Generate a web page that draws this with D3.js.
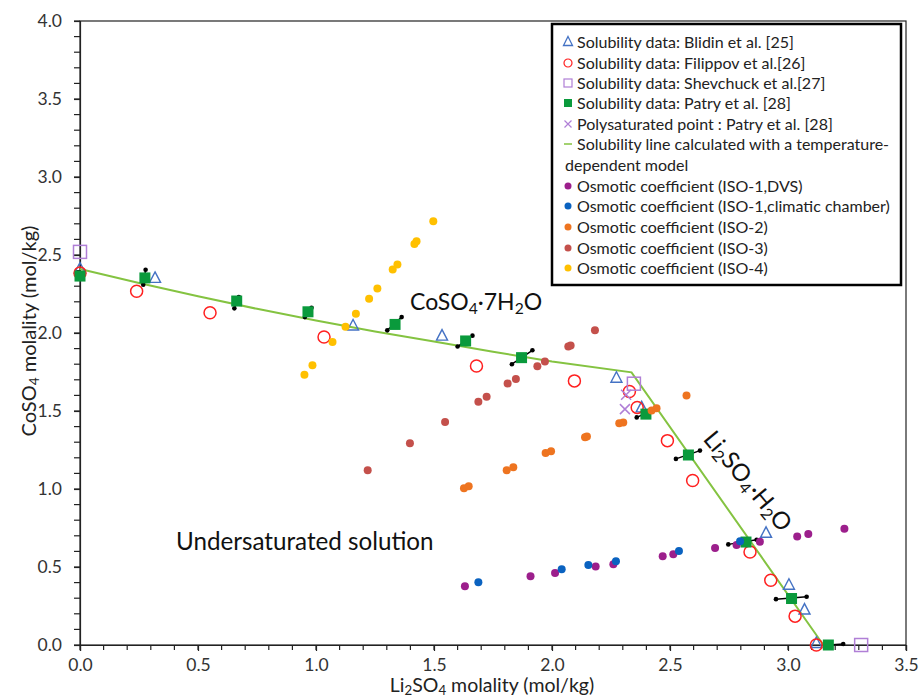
<!DOCTYPE html>
<html lang="en">
  <head>
    <meta charset="UTF-8" />
    <title>CoSO4 - Li2SO4 solubility diagram</title>
    <script src="https://d3js.org/d3.v7.min.js"></script>
  </head>
  <style>
    body {
      margin: 0;
      background: #fff;
    }
    svg {
      font-family: Lato, "Open Sans", sans-serif;
    }
    .tick text {
      fill: #333;
    }
  </style>
  <body>
    <div id="viz"><svg width="921" height="699"></svg></div>
    <script>
      // solubility data, [Li2SO4, CoSO4] in mol/kg
      var blidin = [[0, 2.41], [0.318, 2.35], [1.157, 2.045], [1.534, 1.98], [2.273, 1.71],
        [2.38, 1.52], [2.907, 0.716], [3.004, 0.383], [3.07, 0.224], [3.12, 0.01]];
      var filippov = [[0, 2.385], [0.24, 2.268], [0.551, 2.13], [1.034, 1.974], [1.68, 1.789],
        [2.095, 1.693], [2.328, 1.625], [2.361, 1.523], [2.489, 1.31], [2.596, 1.054],
        [2.839, 0.596], [2.927, 0.415], [3.03, 0.185], [3.12, 0.0]];
      var shevchuck = [[0, 2.52], [2.347, 1.675], [3.31, 0]];
      var patry = [[0, 2.365], [0.275, 2.353], [0.664, 2.205], [0.966, 2.136], [1.335, 2.055],
        [1.634, 1.949], [1.871, 1.842], [2.398, 1.48], [2.578, 1.218], [2.822, 0.66],
        [3.015, 0.298], [3.171, 0]];
      // error bar ends for the Patry points
      var patryErrLow = [null, [0.268, 2.31], [0.654, 2.158], [0.953, 2.102], [1.302, 2.017],
        [1.6, 1.913], [1.83, 1.8], [2.359, 1.459], [2.525, 1.193], [2.747, 0.645],
        [2.949, 0.294], [3.171, 0]];
      var patryErrHigh = [null, [0.278, 2.405], [0.673, 2.23], [0.981, 2.162], [1.363, 2.102],
        [1.663, 1.983], [1.917, 1.889], [2.415, 1.497], [2.627, 1.246], [2.867, 0.675],
        [3.079, 0.309], [3.234, 0.006]];
      var polysat = [[2.314, 1.604], [2.309, 1.512]];
      var solubilityLine = [[0, 2.41], [0.25, 2.32], [0.5, 2.235], [0.75, 2.155], [1.0, 2.08],
        [1.25, 2.01], [1.5, 1.945], [1.75, 1.88], [2.0, 1.818], [2.337, 1.748], [3.15, 0]];

      // osmotic coefficient measurements
      var iso1Dvs = [[1.631, 0.377], [1.909, 0.441], [2.013, 0.462], [2.185, 0.503], [2.26, 0.518],
        [2.469, 0.569], [2.514, 0.581], [2.691, 0.622], [2.782, 0.641], [2.881, 0.662],
        [3.039, 0.696], [3.086, 0.711], [3.239, 0.745]];
      var iso1Chamber = [[1.688, 0.403], [2.041, 0.486], [2.154, 0.513], [2.271, 0.537],
        [2.538, 0.603], [2.797, 0.665]];
      var iso2 = [[1.627, 1.005], [1.647, 1.018], [1.808, 1.12], [1.836, 1.14], [1.973, 1.23],
        [1.996, 1.242], [2.14, 1.331], [2.148, 1.336], [2.285, 1.421], [2.302, 1.427],
        [2.422, 1.504], [2.443, 1.517], [2.57, 1.6]];
      var iso3 = [[1.219, 1.12], [1.398, 1.293], [1.547, 1.43], [1.688, 1.559], [1.723, 1.591],
        [1.812, 1.677], [1.847, 1.705], [1.938, 1.787], [1.97, 1.817], [2.069, 1.913],
        [2.079, 1.92], [2.182, 2.017]];
      var iso4 = [[0.951, 1.732], [0.985, 1.793], [1.07, 1.942], [1.125, 2.04], [1.169, 2.124],
        [1.225, 2.22], [1.26, 2.286], [1.325, 2.407], [1.345, 2.439], [1.417, 2.571],
        [1.426, 2.588], [1.497, 2.716]];

      var xTicks = [0, 0.5, 1, 1.5, 2, 2.5, 3, 3.5];
      var yTicks = [0, 0.5, 1, 1.5, 2, 2.5, 3, 3.5, 4];

      var legendLabels = [
        "Solubility data: Blidin et al. [25]",
        "Solubility data: Filippov et al.[26]",
        "Solubility data: Shevchuck et al.[27]",
        "Solubility data: Patry et al. [28]",
        "Polysaturated point : Patry et al. [28]",
        "Solubility line calculated with a temperature-",
        "Osmotic coefficient (ISO-1,DVS)",
        "Osmotic coefficient (ISO-1,climatic chamber)",
        "Osmotic coefficient (ISO-2)",
        "Osmotic coefficient (ISO-3)",
        "Osmotic coefficient (ISO-4)"
      ];

      var colors = {
        blidin: "#4472c4",
        filippov: "#ff2020",
        shevchuck: "#b07fd6",
        patry: "#0a9a3c",
        polysat: "#b07fd6",
        line: "#84c341",
        iso1Dvs: "#9c1f8c",
        iso1Chamber: "#0a62c0",
        iso2: "#ee7420",
        iso3: "#c4504b",
        iso4: "#ffc000"
      };

      var svg = d3.select("svg");
      var x = d3.scaleLinear().domain([0, 3.5]).range([80, 906]);
      var y = d3.scaleLinear().domain([0, 4]).range([645, 21]);

      // frame
      svg.append("rect")
        .attr("x", x(0)).attr("y", y(4))
        .attr("width", x(3.5) - x(0)).attr("height", y(0) - y(4))
        .attr("fill", "none").attr("stroke", "#222").attr("stroke-width", 1.2);

      // minor ticks
      var xMinor = d3.range(0, 36).map(function (i) { return i / 10; });
      var yMinor = d3.range(0, 41).map(function (i) { return i / 10; });
      svg.append("g").selectAll("line").data(xMinor).enter().append("line")
        .attr("x1", function (d) { return x(d); }).attr("x2", function (d) { return x(d); })
        .attr("y1", y(0)).attr("y2", y(0) + 5)
        .attr("stroke", "#222").attr("stroke-width", 1.2);
      svg.append("g").selectAll("line").data(yMinor).enter().append("line")
        .attr("y1", function (d) { return y(d); }).attr("y2", function (d) { return y(d); })
        .attr("x1", x(0) - 6).attr("x2", x(0))
        .attr("stroke", "#222").attr("stroke-width", 1.2);

      var xAxis = svg.append("g")
        .attr("transform", "translate(0," + y(0) + ")")
        .call(d3.axisBottom(x).tickValues(xTicks).tickFormat(d3.format(".1f"))
          .tickSize(6).tickPadding(8));
      var yAxis = svg.append("g")
        .attr("transform", "translate(" + x(0) + ",0)")
        .call(d3.axisLeft(y).tickValues(yTicks).tickFormat(d3.format(".1f"))
          .tickSize(6).tickPadding(12));
      [xAxis, yAxis].forEach(function (a) {
        a.selectAll("path, line").attr("stroke", "#222").attr("stroke-width", 1.2);
        a.selectAll("text").style("font-size", "17.5px").style("font-family", "Lato, sans-serif");
      });

      // axis titles with subscripts
      function chem(sel, parts) {
        parts.forEach(function (p) {
          var t = sel.append("tspan").text(p[0]);
          if (p[1] == "sub") t.attr("font-size", "0.68em").attr("baseline-shift", "-0.25em");
        });
      }
      var xTitle = svg.append("text")
        .attr("x", 492).attr("y", 692)
        .attr("text-anchor", "middle").attr("font-size", 19.5).attr("fill", "#222");
      chem(xTitle, [["Li"], ["2", "sub"], ["SO"], ["4", "sub"], [" molality (mol/kg)"]]);

      var yTitle = svg.append("text")
        .attr("transform", "translate(36,331) rotate(-90)")
        .attr("text-anchor", "middle").attr("font-size", 20).attr("fill", "#222");
      chem(yTitle, [["CoSO"], ["4", "sub"], [" molality (mol/kg)"]]);

      // solubility line
      svg.append("path")
        .datum(solubilityLine)
        .attr("d", d3.line().x(function (d) { return x(d[0]); }).y(function (d) { return y(d[1]); }))
        .attr("fill", "none").attr("stroke", colors.line).attr("stroke-width", 2);

      var triPath = "M0,-6.5L5.5,4L-5.5,4Z";

      function markers(data, draw) {
        var g = svg.append("g");
        data.forEach(function (d) {
          draw(g.append("g").attr("transform", "translate(" + x(d[0]) + "," + y(d[1]) + ")"));
        });
      }

      markers(blidin, function (g) {
        g.append("path").attr("d", triPath).attr("fill", "none")
          .attr("stroke", colors.blidin).attr("stroke-width", 1.4);
      });
      markers(filippov, function (g) {
        g.append("circle").attr("r", 6).attr("fill", "none")
          .attr("stroke", colors.filippov).attr("stroke-width", 1.5);
      });
      markers(shevchuck, function (g) {
        g.append("rect").attr("x", -6.5).attr("y", -6.5).attr("width", 13).attr("height", 13)
          .attr("fill", "none").attr("stroke", colors.shevchuck).attr("stroke-width", 1.5);
      });

      // error bars for Patry points
      var errG = svg.append("g");
      patry.forEach(function (d, i) {
        var lo = patryErrLow[i], hi = patryErrHigh[i];
        if (!lo) return;
        errG.append("line")
          .attr("x1", x(lo[0])).attr("y1", y(lo[1]))
          .attr("x2", x(hi[0])).attr("y2", y(hi[1]))
          .attr("stroke", "#000").attr("stroke-width", 1.5);
        [lo, hi].forEach(function (e) {
          errG.append("circle").attr("cx", x(e[0])).attr("cy", y(e[1])).attr("r", 2.3).attr("fill", "#000");
        });
      });
      markers(patry, function (g) {
        g.append("rect").attr("x", -5.5).attr("y", -5.5).attr("width", 11).attr("height", 11)
          .attr("fill", colors.patry);
      });
      markers(polysat, function (g) {
        g.append("path").attr("d", "M-5,-5L5,5M-5,5L5,-5")
          .attr("stroke", colors.polysat).attr("stroke-width", 1.5);
      });

      [[iso1Dvs, colors.iso1Dvs], [iso1Chamber, colors.iso1Chamber], [iso2, colors.iso2],
        [iso3, colors.iso3], [iso4, colors.iso4]].forEach(function (s) {
        markers(s[0], function (g) {
          g.append("circle").attr("r", 4).attr("fill", s[1]);
        });
      });

      // annotations
      var lab1 = svg.append("text").attr("x", 410).attr("y", 310)
        .attr("font-size", 23).attr("fill", "#111");
      chem(lab1, [["CoSO"], ["4", "sub"], ["·7H"], ["2", "sub"], ["O"]]);

      var lab2 = svg.append("text")
        .attr("transform", "translate(748,481) rotate(50)")
        .attr("text-anchor", "middle").attr("dy", "0.35em")
        .attr("font-size", 24).attr("fill", "#111");
      chem(lab2, [["Li"], ["2", "sub"], ["SO"], ["4", "sub"], ["·H"], ["2", "sub"], ["O"]]);

      svg.append("text").attr("x", 176).attr("y", 550)
        .attr("font-size", 24.2).attr("fill", "#111")
        .text("Undersaturated solution");

      // legend
      var lg = svg.append("g");
      lg.append("rect").attr("x", 552).attr("y", 24).attr("width", 349).attr("height", 261)
        .attr("fill", "#fff").attr("stroke", "#000").attr("stroke-width", 2.5);
      var rowY = [42, 63, 83, 103, 124, 144, 186, 206, 227, 248, 268];
      var mx = 568;
      legendLabels.forEach(function (label, i) {
        var g = lg.append("g").attr("transform", "translate(" + mx + "," + rowY[i] + ")");
        if (i == 0) g.append("path").attr("d", "M0,-5.5L4.5,3.5L-4.5,3.5Z").attr("fill", "none")
          .attr("stroke", colors.blidin).attr("stroke-width", 1.3);
        if (i == 1) g.append("circle").attr("r", 4).attr("fill", "none")
          .attr("stroke", colors.filippov).attr("stroke-width", 1.2);
        if (i == 2) g.append("rect").attr("x", -4).attr("y", -4).attr("width", 8).attr("height", 8)
          .attr("fill", "none").attr("stroke", colors.shevchuck).attr("stroke-width", 1.2);
        if (i == 3) g.append("rect").attr("x", -4).attr("y", -4).attr("width", 8).attr("height", 8)
          .attr("fill", colors.patry);
        if (i == 4) g.append("path").attr("d", "M-3.5,-3.5L3.5,3.5M-3.5,3.5L3.5,-3.5")
          .attr("stroke", colors.polysat).attr("stroke-width", 1.2);
        if (i == 5) g.append("line").attr("x1", -4).attr("x2", 4)
          .attr("stroke", colors.line).attr("stroke-width", 1.5);
        if (i > 5) g.append("circle").attr("r", 3.5)
          .attr("fill", [colors.iso1Dvs, colors.iso1Chamber, colors.iso2, colors.iso3, colors.iso4][i - 6]);
        g.append("text").attr("x", 9).attr("dy", "0.35em")
          .attr("font-size", 16).attr("fill", "#222").text(label);
      });
      lg.append("text").attr("x", 565).attr("y", 165).attr("dy", "0.35em")
        .attr("font-size", 16).attr("fill", "#222").text("dependent model");
    </script>
  </body>
</html>
